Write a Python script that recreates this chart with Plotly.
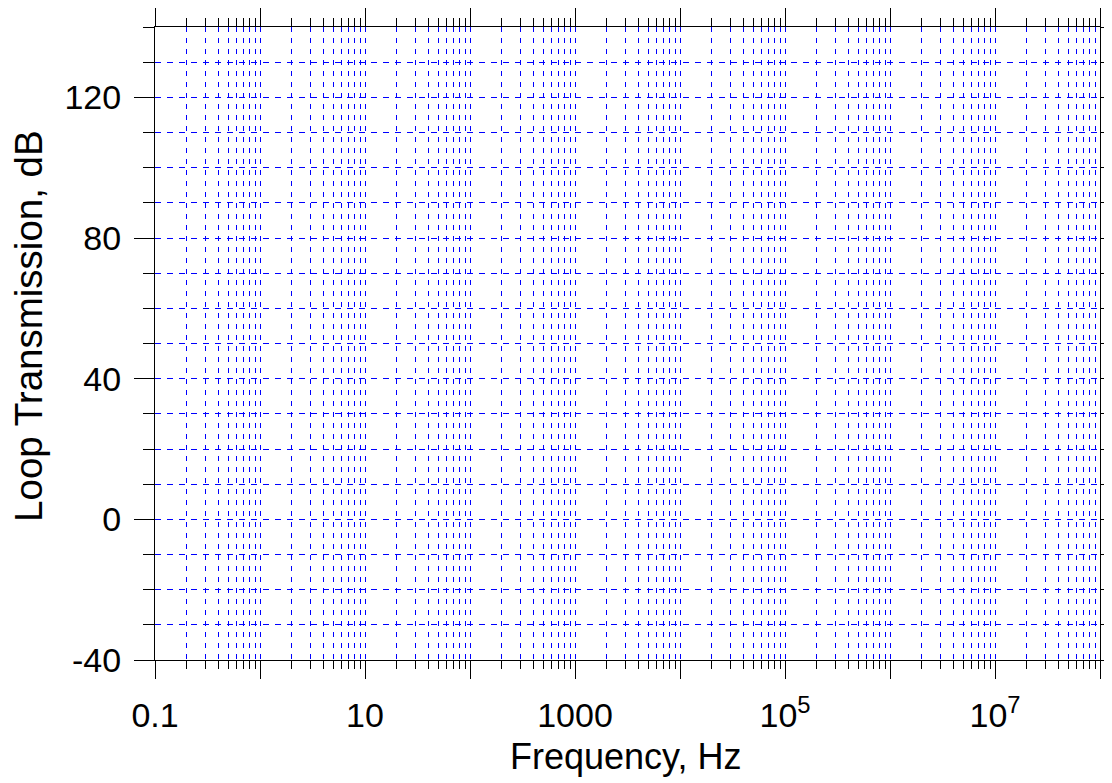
import plotly.graph_objects as go

# Axis definitions
x_range_log = [-1, 8]                      # 0.1 Hz .. 1e8 Hz
x_decade_vals = [0.1, 1, 10, 100, 1000, 1e4, 1e5, 1e6, 1e7, 1e8]
x_label_vals = [0.1, 10, 1000, 1e5, 1e7]
x_label_text = ["0.1", "10", "1000", "10<sup>5</sup>", "10<sup>7</sup>"]
x_minor_mult = [2, 3, 4, 5, 6, 7, 8, 9]

y_range = [-40, 140]
y_major_vals = [-40, 0, 40, 80, 120]
y_major_text = ["-40", "0", "40", "80", "120"]
y_minor_vals = [-30, -20, -10, 10, 20, 30, 50, 60, 70, 90, 100, 110, 130, 140]

x_title = "Frequency, Hz"
y_title = "Loop Transmission, dB"

x_minor_vals = [d * m for d in x_decade_vals[:-1] for m in x_minor_mult]

FONT = "Liberation Sans, Arial, Helvetica, sans-serif"
GRID = "rgb(0,0,255)"

fig = go.Figure()
# empty traces (the reference chart has no data marks); they only anchor the axes
fig.add_trace(go.Scatter(x=[], y=[], xaxis="x", yaxis="y", showlegend=False, hoverinfo="skip"))
fig.add_trace(go.Scatter(x=[], y=[], xaxis="x2", yaxis="y", showlegend=False, hoverinfo="skip"))

fig.update_layout(
    template="none",
    width=1104, height=775,
    margin=dict(l=147, r=12, t=19, b=123, autoexpand=False),
    paper_bgcolor="white", plot_bgcolor="white",
    showlegend=False,
    font=dict(family=FONT, color="black", size=34),
)

fig.update_layout(
    xaxis=dict(
        type="log", range=x_range_log, automargin=False,
        tickmode="array", tickvals=x_decade_vals, showticklabels=False,
        ticks="outside", ticklen=18, tickwidth=1, tickcolor="black",
        showline=True, linecolor="black", linewidth=1, mirror="ticks",
        showgrid=True, gridcolor=GRID, gridwidth=1, griddash="5px,6px",
        zeroline=False,
        minor=dict(tickmode="array", tickvals=x_minor_vals, ticks="outside", ticklen=8,
                   tickwidth=1, tickcolor="black", showgrid=True, gridcolor=GRID,
                   gridwidth=1, griddash="5px,6px"),
    ),
    xaxis2=dict(
        type="log", range=x_range_log, automargin=False, overlaying="x", side="bottom",
        tickmode="array", tickvals=x_label_vals, ticktext=x_label_text,
        ticks="outside", ticklen=18, tickwidth=1, tickcolor="black",
        showline=False, showgrid=False, zeroline=False, mirror=False,
        ticklabelstandoff=7,
        tickfont=dict(size=34, family=FONT, color="black"),
    ),
    yaxis=dict(
        range=y_range, automargin=False,
        tickmode="array", tickvals=y_major_vals, ticktext=y_major_text,
        ticks="outside", ticklen=20, tickwidth=1, tickcolor="black",
        showline=True, linecolor="black", linewidth=1, mirror="ticks",
        showgrid=True, gridcolor=GRID, gridwidth=1, griddash="6px,6px",
        zeroline=False, ticklabelstandoff=6,
        tickfont=dict(size=34, family=FONT, color="black"),
        minor=dict(tickmode="array", tickvals=y_minor_vals, ticks="outside", ticklen=11,
                   tickwidth=1, tickcolor="black", showgrid=True, gridcolor=GRID,
                   gridwidth=1, griddash="6px,6px"),
    ),
)

fig.add_annotation(text=x_title, xref="paper", yref="paper", x=0.4984, y=-0.1532,
                   xanchor="center", yanchor="middle", showarrow=False,
                   font=dict(size=36, family=FONT, color="black"))
fig.add_annotation(text=y_title, xref="paper", yref="paper", x=-0.1345, y=0.5276,
                   xanchor="center", yanchor="middle", textangle=-90, showarrow=False,
                   font=dict(size=38.5, family=FONT, color="black"))

fig.write_html("out.html")
